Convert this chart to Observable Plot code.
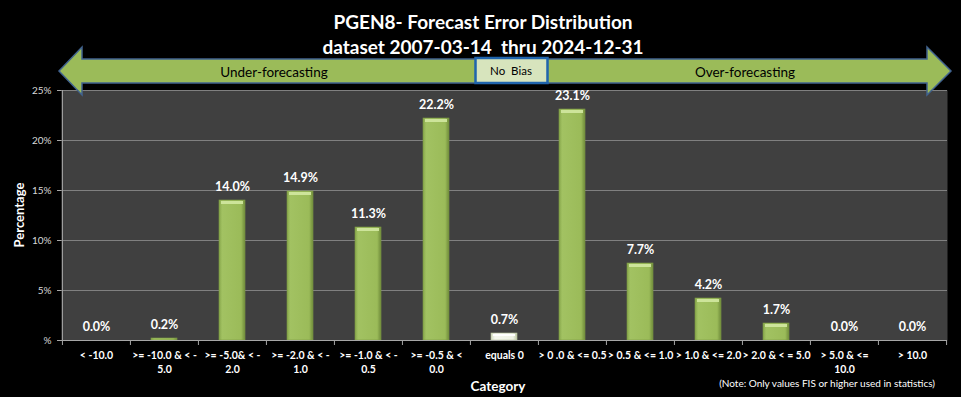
<!DOCTYPE html>
<html>
<head>
<meta charset="utf-8">
<script src="https://cdn.jsdelivr.net/npm/d3@7"></script>
<script src="https://cdn.jsdelivr.net/npm/@observablehq/plot@0.6"></script>
<style>
  html, body { margin: 0; padding: 0; background: #000; }
  #wrap { position: relative; width: 961px; height: 397px; background: #000; overflow: hidden; }
  #overlay { position: absolute; left: 0; top: 0; pointer-events: none; }
  #overlay text { white-space: pre; }
</style>
</head>
<body>
<div id="wrap"></div>
<script>
// ---- data ----
const categories = ["c1","c2","c3","c4","c5","c6","c7","c8","c9","c10","c11","c12","c13"];
const tickLabels = [
  "< -10.0",
  ">= -10.0 & < -\n5.0",
  ">= -5.0& < -\n2.0",
  ">= -2.0 & < -\n1.0",
  ">= -1.0 & < -\n0.5",
  ">= -0.5 & <\n0.0",
  "equals 0",
  "> 0 .0 & <= 0.5",
  "> 0.5 & <= 1.0",
  "> 1.0 & <= 2.0",
  "> 2.0 & < = 5.0",
  "> 5.0 & <=\n10.0",
  "> 10.0"
];
const values = [0.0, 0.2, 14.0, 14.9, 11.3, 22.2, 0.7, 23.1, 7.7, 4.2, 1.7, 0.0, 0.0];
const yTicks = [0, 5, 10, 15, 20, 25];
const titleLines = ["PGEN8- Forecast Error Distribution", "dataset 2007-03-14  thru 2024-12-31"];
const neutralCategory = "c7";

const data = categories.map((c, i) => ({category: c, value: values[i], label: tickLabels[i]}));

// ---- layout ----
const W = 961, H = 397;
const mL = 61, mR = 14, mT = 90, mB = 57;
const step = (W - mL - mR) / categories.length;
const FONT = "Lato, 'Open Sans', sans-serif";

const greenData = data.filter(d => d.category !== neutralCategory);
const whiteData = data.filter(d => d.category === neutralCategory);

const plot = Plot.plot({
  width: W, height: H,
  marginTop: mT, marginBottom: mB, marginLeft: mL, marginRight: mR,
  style: {background: "#000", color: "#fff", fontFamily: FONT, overflow: "visible"},
  x: {domain: categories, paddingInner: 0.62, paddingOuter: 0.31, label: null},
  y: {domain: [0, 25], label: null},
  marks: [
    Plot.frame({fill: "#404040", stroke: null}),
    Plot.gridY(yTicks.filter(t => t > 0), {stroke: "#808080", strokeOpacity: 1, strokeWidth: 1.2}),
    Plot.axisY({ticks: yTicks, tickFormat: d => d === 0 ? "%" : d + "%", tickSize: 4, tickPadding: 6,
                fontSize: 10, fill: "#d9d9d9", stroke: "#a6a6a6", fontFamily: FONT}),
    Plot.axisX({tickSize: 5, tickFormat: () => "", dx: -step / 2, stroke: "#a6a6a6"}),
    Plot.axisX([categories[categories.length - 1]], {tickSize: 5, tickFormat: () => "", dx: step / 2, stroke: "#a6a6a6"}),
    Plot.axisX({tickSize: 0, tickPadding: 9, tickFormat: (d, i) => tickLabels[categories.indexOf(d)],
                fontSize: 10.5, fontWeight: "bold", fill: "#fff", lineHeight: 1.3, fontFamily: FONT}),
    Plot.barY(greenData, {x: "category", y: "value", fill: "url(#gGreen)", stroke: "#7e9c45", strokeWidth: 0.6}),
    Plot.barY(whiteData, {x: "category", y: "value", fill: "url(#gWhite)", stroke: "#b8c49e", strokeWidth: 0.6}),
    Plot.tickY(greenData.filter(d => d.value > 1), {x: "category", y: "value", dy: 2, stroke: "#cde49a", strokeWidth: 3, insetLeft: 2, insetRight: 2}),
    Plot.tickY(whiteData, {x: "category", y: "value", dy: 1.5, stroke: "#ffffff", strokeWidth: 2, insetLeft: 2, insetRight: 2}),
    Plot.ruleY([0], {stroke: "#a6a6a6", strokeWidth: 1.2}),
    Plot.ruleX([categories[0]], {dx: -step / 2, stroke: "#a6a6a6", y1: 0, y2: 25}),
    Plot.text(data, {x: "category", y: "value", text: d => d.value.toFixed(1) + "%", dy: -14,
                     fill: "#fff", fontSize: 12.5, fontWeight: "bold", fontFamily: FONT})
  ]
});

plot.insertAdjacentHTML("afterbegin", `
<defs>
  <linearGradient id="gGreen" x1="0" x2="1" y1="0" y2="0">
    <stop offset="0" stop-color="#86a64a"/>
    <stop offset="0.12" stop-color="#a2c262"/>
    <stop offset="0.85" stop-color="#9bbb59"/>
    <stop offset="1" stop-color="#6f8b3a"/>
  </linearGradient>
  <linearGradient id="gWhite" x1="0" x2="1" y1="0" y2="0">
    <stop offset="0" stop-color="#d3dcc0"/>
    <stop offset="0.15" stop-color="#f4f7ee"/>
    <stop offset="0.85" stop-color="#eef2e4"/>
    <stop offset="1" stop-color="#bcc7a4"/>
  </linearGradient>
</defs>`);

const wrap = document.getElementById("wrap");
wrap.appendChild(plot);

// ---- overlay: title, arrow, axis titles, note ----
const svg = d3.select(wrap).append("svg").attr("id", "overlay").attr("width", W).attr("height", H)
  .style("font-family", FONT);

svg.append("text").attr("x", 483).attr("y", 29).attr("text-anchor", "middle")
  .attr("fill", "#fff").attr("font-size", 19).attr("font-weight", "bold").text(titleLines[0]);
svg.append("text").attr("x", 483).attr("y", 54).attr("text-anchor", "middle")
  .attr("fill", "#fff").attr("font-size", 19).attr("font-weight", "bold").text(titleLines[1]);

const arrow = [[59,71],[82,47],[82,59],[927,59],[927,47],[951,71],[927,95],[927,83],[82,83],[82,95]];
svg.append("path").attr("d", "M" + arrow.map(p => p.join(",")).join("L") + "Z")
  .attr("fill", "#9bbb59").attr("stroke", "#41638f").attr("stroke-width", 1.5).attr("stroke-linejoin", "miter");
svg.append("rect").attr("x", 475.5).attr("y", 58).attr("width", 72).attr("height", 25)
  .attr("fill", "#d7e4bd").attr("stroke", "#1f64ad").attr("stroke-width", 2.5);
svg.append("text").attr("x", 511).attr("y", 71).attr("dy", "0.35em").attr("text-anchor", "middle")
  .attr("fill", "#000").attr("font-size", 11.5).text("No  Bias");
svg.append("text").attr("x", 274).attr("y", 72).attr("dy", "0.35em").attr("text-anchor", "middle")
  .attr("fill", "#000").attr("font-size", 13.5).text("Under-forecasting");
svg.append("text").attr("x", 745).attr("y", 72).attr("dy", "0.35em").attr("text-anchor", "middle")
  .attr("fill", "#000").attr("font-size", 13.5).text("Over-forecasting");

svg.append("text").attr("transform", "translate(19,215) rotate(-90)").attr("dy", "0.35em")
  .attr("text-anchor", "middle").attr("fill", "#fff").attr("font-size", 13).attr("font-weight", "bold").text("Percentage");
svg.append("text").attr("x", 498).attr("y", 386).attr("dy", "0.35em").attr("text-anchor", "middle")
  .attr("fill", "#fff").attr("font-size", 13.5).attr("font-weight", "bold").text("Category");
svg.append("text").attr("x", 935).attr("y", 383).attr("dy", "0.35em").attr("text-anchor", "end")
  .attr("fill", "#fff").attr("font-size", 10).text("(Note: Only values FIS or higher used in statistics)");
</script>
</body>
</html>
